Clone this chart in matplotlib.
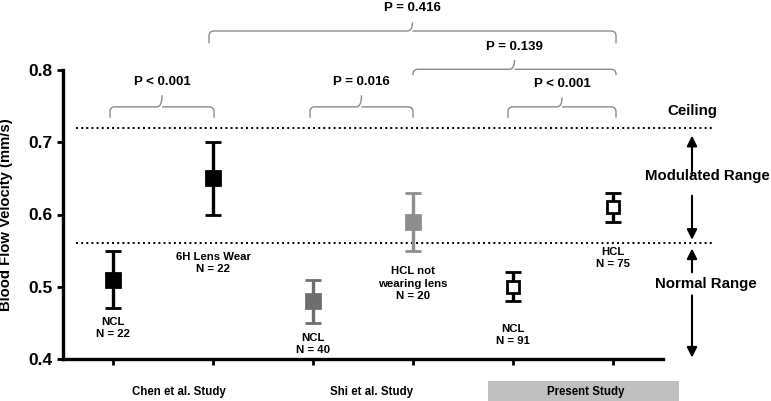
import numpy as np
import matplotlib.pyplot as plt
from matplotlib.path import Path
from matplotlib.patches import PathPatch, Rectangle

plt.rcParams['font.family'] = ['Liberation Sans', 'DejaVu Sans']
plt.rcParams['font.weight'] = 'bold'

# data
means = [0.51, 0.65, 0.48, 0.59, 0.50, 0.61]
lower = [0.47, 0.60, 0.45, 0.55, 0.48, 0.59]
upper = [0.55, 0.70, 0.51, 0.63, 0.52, 0.63]
group_labels = ['NCL\nN = 22', '6H Lens Wear\nN = 22', 'NCL\nN = 40',
                'HCL not\nwearing lens\nN = 20', 'NCL\nN = 91', 'HCL\nN = 75']
studies = ['Chen et al. Study', 'Shi et al. Study', 'Present Study']
colors = ['black', 'black', '#6e6e6e', '#8e8e8e', 'black', 'black']
filled = [True, True, True, True, False, False]

# comparisons: (left group, right group, p text)
comparisons = [(0, 1, 'P < 0.001'), (2, 3, 'P = 0.016'), (4, 5, 'P < 0.001'),
               (3, 5, 'P = 0.139'), (1, 5, 'P = 0.416')]

ceiling = 0.72
normal_top = 0.56

fig = plt.figure(figsize=(7.71, 4.01), dpi=100)
ax = fig.add_axes([63/771, 1-359/401, 600/771, 289/401])

x = np.arange(len(means))
for i in x:
    ax.errorbar(x[i], means[i], yerr=[[means[i]-lower[i]], [upper[i]-means[i]]],
                fmt='s', color=colors[i], ecolor=colors[i], elinewidth=2.4,
                capsize=5.5, capthick=2.4,
                markersize=9.5 if filled[i] else 8.5,
                markerfacecolor=colors[i] if filled[i] else 'white',
                markeredgecolor=colors[i], markeredgewidth=2.0, zorder=3)

ax.set_xlim(-0.5, 5.5)
ax.set_ylim(0.4, 0.8)
ax.set_yticks([0.4, 0.5, 0.6, 0.7, 0.8])
ax.set_yticklabels(['0.4', '0.5', '0.6', '0.7', '0.8'], fontsize=12.5, fontweight='bold')
ax.set_xticks(x)
ax.set_xticklabels([])
ax.tick_params(axis='both', width=2, length=4, direction='out')
for s in ['top', 'right']:
    ax.spines[s].set_visible(False)
for s in ['left', 'bottom']:
    ax.spines[s].set_linewidth(2.4)
ax.set_ylabel('Blood Flow Velocity (mm/s)', fontsize=10.7, fontweight='bold', labelpad=11)

# group labels below / above markers
label_y = [0.443, 0.533, 0.421, 0.504, 0.433, 0.540]
for i in x:
    ax.text(x[i], label_y[i], group_labels[i], ha='center', va='center',
            fontsize=8.2, fontweight='bold', linespacing=1.3)

# dotted reference lines
for yv in [ceiling, normal_top]:
    ax.plot([-0.37, 6.01], [yv, yv], ls=':', color='black', lw=1.4, clip_on=False)

# range arrows and labels
xa = 5.79
arr = dict(arrowstyle='-|>', color='black', lw=1.5, mutation_scale=15, shrinkA=0, shrinkB=0)
ax.annotate('', xy=(xa, 0.709), xytext=(xa, 0.656), arrowprops=arr, annotation_clip=False)
ax.annotate('', xy=(xa, 0.565), xytext=(xa, 0.626), arrowprops=arr, annotation_clip=False)
ax.annotate('', xy=(xa, 0.553), xytext=(xa, 0.52), arrowprops=arr, annotation_clip=False)
ax.annotate('', xy=(xa, 0.402), xytext=(xa, 0.488), arrowprops=arr, annotation_clip=False)
ax.text(xa, 0.743, 'Ceiling', ha='center', va='center', fontsize=10.8, fontweight='bold', clip_on=False)
ax.text(5.94, 0.653, 'Modulated Range', ha='center', va='center', fontsize=10.8, fontweight='bold', clip_on=False)
ax.text(5.93, 0.504, 'Normal Range', ha='center', va='center', fontsize=10.8, fontweight='bold', clip_on=False)

# study labels under the axis
ax.text(0.66, 0.354, studies[0], ha='center', va='center', fontsize=8.3, fontweight='bold', clip_on=False)
ax.text(2.59, 0.354, studies[1], ha='center', va='center', fontsize=8.3, fontweight='bold', clip_on=False)
ax.add_patch(Rectangle((3.75, 0.342), 1.91, 0.0275, facecolor='#c0c0c0', edgecolor='none',
                       clip_on=False))
ax.text(4.73, 0.355, studies[2], ha='center', va='center', fontsize=8.3, fontweight='bold', clip_on=False)


def brace(x0, x1, y, drop, spike, text, ty):
    xm = (x0 + x1) / 2
    rx, ry = 0.05, 0.007
    verts = [(x0, y - drop), (x0, y - ry), (x0, y), (x0 + rx, y),
             (xm - rx, y), (xm, y), (xm, y + spike),
             (xm, y), (xm + rx, y),
             (x1 - rx, y), (x1, y), (x1, y - ry), (x1, y - drop)]
    codes = [Path.MOVETO, Path.LINETO, Path.CURVE3, Path.CURVE3,
             Path.LINETO, Path.CURVE3, Path.CURVE3,
             Path.MOVETO, Path.CURVE3, Path.LINETO, Path.CURVE3, Path.CURVE3, Path.LINETO]
    ax.add_patch(PathPatch(Path(verts, codes), facecolor='none', edgecolor='#8a8a8a',
                           lw=1.0, clip_on=False))
    ax.text(xm, ty, text, ha='center', va='center', fontsize=9.5, fontweight='bold', clip_on=False)


brace_levels = [(0.749, 0.015, 0.016, 0.783), (0.749, 0.015, 0.016, 0.783),
                (0.749, 0.015, 0.013, 0.780), (0.801, 0.008, 0.013, 0.832),
                (0.854, 0.017, 0.012, 0.886)]
offsets = [(-0.03, 0.01), (-0.03, 0.0), (-0.05, 0.03), (0.0, 0.03), (-0.04, 0.03)]
for (a, b, t), (yl, dr, sp, ty), (oa, ob) in zip(comparisons, brace_levels, offsets):
    brace(x[a] + oa, x[b] + ob, yl, dr, sp, t, ty)

plt.savefig('out.png', dpi=100)
